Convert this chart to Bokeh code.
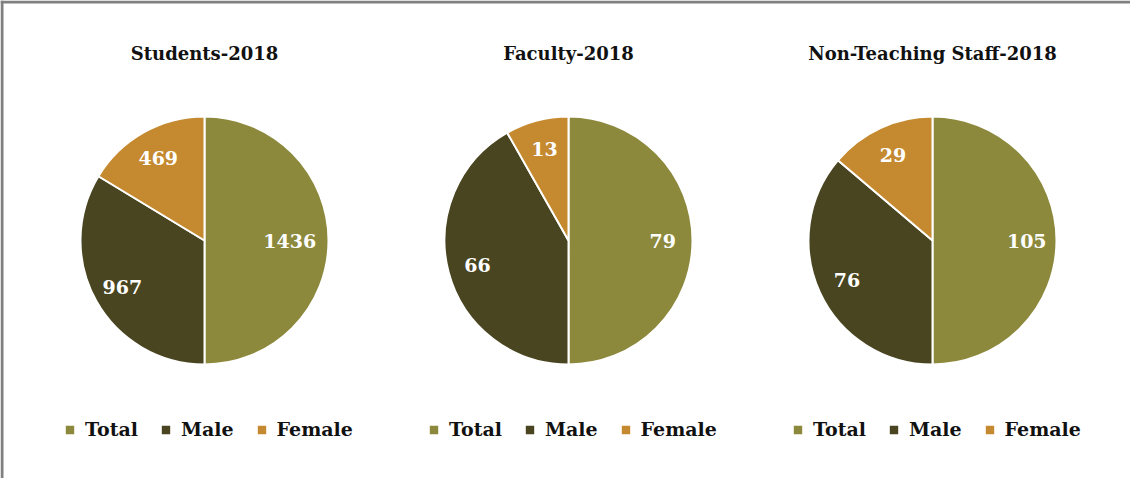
import math
from bokeh.plotting import figure
from bokeh.models import Range1d, ColumnDataSource, Legend, LegendItem, Span
from bokeh.core.properties import value
from bokeh.embed import file_html
from bokeh.resources import INLINE

# ---- data ----
titles = ["Students-2018", "Faculty-2018", "Non-Teaching Staff-2018"]
categories = ["Total", "Male", "Female"]
total = [1436, 79, 105]
male = [967, 66, 76]
female = [469, 13, 29]
colors = ["#8C893D", "#4A4521", "#C5892F"]

# ---- layout ----
W, H = 1130, 478
centers_x = [204, 568, 932]
center_y = 238
R = 124
FONT = "DejaVu Serif"

p = figure(width=W, height=H, x_range=Range1d(0, W), y_range=Range1d(0, H),
           min_border=0, toolbar_location=None, output_backend="svg",
           x_axis_type=None, y_axis_type=None)
p.grid.visible = False
p.outline_line_color = None
p.background_fill_color = "white"
p.border_fill_color = "white"

# frame border (left / top)
p.add_layout(Span(location=1.5, dimension="height", line_color="#808080", line_width=3))
p.add_layout(Span(location=H - 1.5, dimension="width", line_color="#808080", line_width=3))

series = [total, male, female]
sums = [t + m + f for t, m, f in zip(total, male, female)]

renderers = []
label_x, label_y, label_t = [], [], []
for ci, (cat, vals, col) in enumerate(zip(categories, series, colors)):
    starts, ends = [], []
    for pi in range(3):
        before = sum(series[k][pi] for k in range(ci))
        a0 = math.pi / 2 - 2 * math.pi * before / sums[pi]
        a1 = math.pi / 2 - 2 * math.pi * (before + vals[pi]) / sums[pi]
        starts.append(a0)
        ends.append(a1)
        mid = (a0 + a1) / 2
        txt = str(vals[pi])
        dist = 0.76 * R - 9 * max(0, len(txt) - 3)
        label_x.append(centers_x[pi] + dist * math.cos(mid))
        label_y.append(center_y + dist * math.sin(mid))
        label_t.append(txt)
    src = ColumnDataSource(dict(x=centers_x, y=[center_y] * 3, start=starts, end=ends))
    r = p.wedge(x="x", y="y", radius=R, start_angle="start", end_angle="end",
                direction="clock", fill_color=col, line_color="white",
                line_width=2, source=src)
    renderers.append(r)

# data labels
p.text(x=label_x, y=label_y, text=label_t, text_font=value(FONT),
       text_font_style="bold", text_font_size="19px", text_color="white",
       text_align="center", text_baseline="middle")

# titles
p.text(x=centers_x, y=[425] * 3, text=titles, text_font=value(FONT),
       text_font_style="bold", text_font_size="18px", text_color="#111111",
       text_align="center", text_baseline="middle")

# legends
for pi in range(3):
    items = [LegendItem(label=cat, renderers=[r]) for cat, r in zip(categories, renderers)]
    lg = Legend(items=items, orientation="horizontal",
                location=(centers_x[pi] - 141, 38),
                padding=0, margin=0, spacing=21, label_standoff=9,
                glyph_width=13, glyph_height=13,
                label_text_font=FONT, label_text_font_style="bold",
                label_text_font_size="19px", label_text_color="#111111",
                border_line_color=None, background_fill_alpha=0)
    p.add_layout(lg)

open("out.html", "w").write(file_html(p, INLINE))
